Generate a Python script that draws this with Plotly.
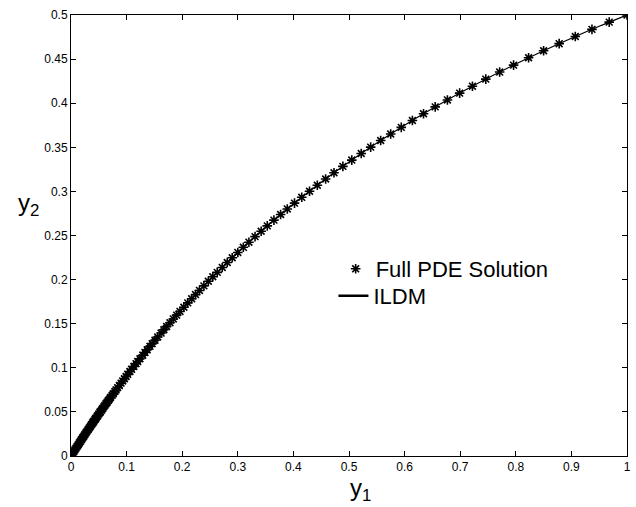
import plotly.graph_objects as go

# Full PDE solution samples (asterisks)
pde_y1 = [1.000, 0.968, 0.937, 0.907, 0.878, 0.850, 0.823, 0.796, 0.771, 0.746,
          0.722, 0.699, 0.677, 0.655, 0.634, 0.614, 0.594, 0.575, 0.557, 0.539,
          0.522, 0.505, 0.489, 0.473, 0.458, 0.443, 0.429, 0.415, 0.402, 0.389,
          0.377, 0.365, 0.353, 0.342, 0.331, 0.320, 0.310, 0.300, 0.290, 0.281,
          0.272, 0.263, 0.255, 0.247, 0.239, 0.231, 0.224, 0.217, 0.210, 0.203,
          0.196, 0.190, 0.184, 0.178, 0.172, 0.167, 0.162, 0.156, 0.151, 0.146,
          0.142, 0.137, 0.133, 0.129, 0.124, 0.120, 0.117, 0.113, 0.109, 0.106,
          0.102, 0.099, 0.096, 0.093, 0.090, 0.087, 0.084, 0.081, 0.079, 0.076,
          0.074, 0.071, 0.069, 0.067, 0.065, 0.063, 0.061, 0.059, 0.057, 0.055,
          0.053, 0.052, 0.050, 0.048, 0.047, 0.045, 0.044, 0.043, 0.041, 0.040,
          0.039, 0.037, 0.035, 0.033, 0.031, 0.029, 0.027, 0.025, 0.023, 0.021,
          0.019, 0.017, 0.015, 0.013, 0.011, 0.009, 0.007, 0.005, 0.003, 0.001]
pde_y2 = [0.5000, 0.4919, 0.4837, 0.4756, 0.4675, 0.4595, 0.4515, 0.4432, 0.4353, 0.4273,
          0.4193, 0.4114, 0.4037, 0.3958, 0.3880, 0.3804, 0.3726, 0.3651, 0.3577, 0.3502,
          0.3430, 0.3355, 0.3284, 0.3211, 0.3141, 0.3070, 0.3002, 0.2933, 0.2867, 0.2801,
          0.2738, 0.2674, 0.2609, 0.2548, 0.2487, 0.2424, 0.2366, 0.2308, 0.2248, 0.2194,
          0.2138, 0.2082, 0.2032, 0.1981, 0.1929, 0.1877, 0.1830, 0.1783, 0.1736, 0.1687,
          0.1639, 0.1597, 0.1554, 0.1511, 0.1468, 0.1431, 0.1394, 0.1349, 0.1312, 0.1274,
          0.1243, 0.1205, 0.1174, 0.1143, 0.1103, 0.1071, 0.1047, 0.1015, 0.0983, 0.0958,
          0.0926, 0.0901, 0.0876, 0.0851, 0.0826, 0.0800, 0.0775, 0.0749, 0.0732, 0.0706,
          0.0689, 0.0663, 0.0645, 0.0628, 0.0610, 0.0593, 0.0575, 0.0557, 0.0539, 0.0521,
          0.0503, 0.0494, 0.0476, 0.0458, 0.0449, 0.0431, 0.0421, 0.0412, 0.0394, 0.0385,
          0.0375, 0.0357, 0.0338, 0.0319, 0.0301, 0.0282, 0.0263, 0.0244, 0.0225, 0.0206,
          0.0186, 0.0167, 0.0148, 0.0128, 0.0109, 0.0089, 0.0070, 0.0050, 0.0030, 0.0010]

# ILDM curve
ildm_y1 = [0.0, 0.025, 0.05, 0.075, 0.1, 0.15, 0.2, 0.25, 0.3, 0.35, 0.4, 0.45,
           0.5, 0.55, 0.6, 0.65, 0.7, 0.75, 0.8, 0.85, 0.9, 0.95, 1.0]
ildm_y2 = [0.0, 0.0244, 0.0476, 0.0698, 0.0909, 0.1304, 0.1667, 0.2000, 0.2308,
           0.2593, 0.2857, 0.3103, 0.3333, 0.3548, 0.3750, 0.3939, 0.4118, 0.4286,
           0.4444, 0.4595, 0.4737, 0.4872, 0.5000]

x_ticks = [0, 0.1, 0.2, 0.3, 0.4, 0.5, 0.6, 0.7, 0.8, 0.9, 1]
x_labels = ["0", "0.1", "0.2", "0.3", "0.4", "0.5", "0.6", "0.7", "0.8", "0.9", "1"]
y_ticks = [0, 0.05, 0.1, 0.15, 0.2, 0.25, 0.3, 0.35, 0.4, 0.45, 0.5]
y_labels = ["0", "0.05", "0.1", "0.15", "0.2", "0.25", "0.3", "0.35", "0.4", "0.45", "0.5"]

FONT = "Liberation Sans, Arial, Helvetica, sans-serif"

fig = go.Figure()
fig.add_trace(go.Scatter(
    x=ildm_y1, y=ildm_y2, mode="lines", name="ILDM",
    line=dict(color="black", width=1.2, shape="spline"), showlegend=False))
fig.add_trace(go.Scatter(
    x=pde_y1, y=pde_y2, mode="markers", name="Full PDE Solution",
    marker=dict(symbol="asterisk-open", size=8, color="black",
                line=dict(color="black", width=1.6)),
    legend="legend"))
# legend entry for ILDM
fig.add_trace(go.Scatter(
    x=[None], y=[None], mode="lines", name="ILDM",
    line=dict(color="black", width=2.5), legend="legend2"))

axis_common = dict(
    showgrid=False, zeroline=False, showline=True, linecolor="black", linewidth=1,
    mirror="ticks", ticks="inside", ticklen=5, tickcolor="black", tickwidth=1,
    tickfont=dict(family=FONT, size=12, color="black"))

fig.update_xaxes(range=[0, 1], tickvals=x_ticks, ticktext=x_labels, **axis_common)
fig.update_yaxes(range=[0, 0.5], tickvals=y_ticks, ticktext=y_labels, **axis_common)

legend_common = dict(xanchor="left", yanchor="middle", bgcolor="rgba(0,0,0,0)",
                     font=dict(family=FONT, size=22, color="black"),
                     itemwidth=30, tracegroupgap=0, borderwidth=0)

fig.update_layout(
    width=636, height=507,
    margin=dict(l=71, r=5, t=15, b=51),
    paper_bgcolor="white", plot_bgcolor="white",
    font=dict(family=FONT, color="black"),
    legend=dict(x=0.476, y=0.424, **legend_common),
    legend2=dict(x=0.472, y=0.363, **legend_common),
    annotations=[
        dict(text="y<sub>1</sub>", x=0.52, y=-0.075, xref="paper", yref="paper",
             xanchor="center", yanchor="middle", showarrow=False,
             font=dict(family=FONT, size=24, color="black")),
        dict(text="y<sub>2</sub>", x=-0.077, y=0.57, xref="paper", yref="paper",
             xanchor="center", yanchor="middle", showarrow=False,
             font=dict(family=FONT, size=24, color="black")),
    ],
)

fig.write_html("out.html")
